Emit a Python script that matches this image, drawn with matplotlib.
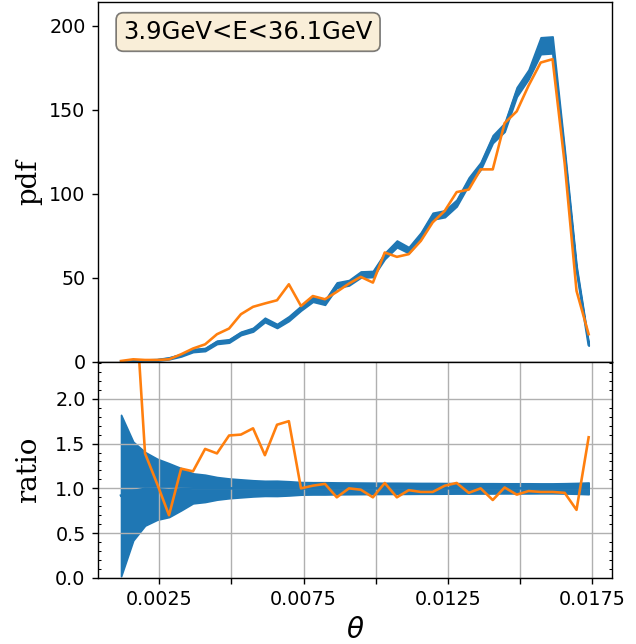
import numpy as np
import matplotlib
matplotlib.use("Agg")
import matplotlib.pyplot as plt
from matplotlib.ticker import MultipleLocator, AutoMinorLocator, FuncFormatter

# bin centres in theta
theta = [0.00118, 0.00160, 0.00201, 0.00243, 0.00284, 0.00326, 0.00367, 0.00409,
         0.00450, 0.00492, 0.00533, 0.00575, 0.00616, 0.00658, 0.00699, 0.00741,
         0.00782, 0.00824, 0.00865, 0.00907, 0.00948, 0.00990, 0.01031, 0.01073,
         0.01114, 0.01156, 0.01197, 0.01239, 0.01280, 0.01322, 0.01363, 0.01405,
         0.01446, 0.01488, 0.01529, 0.01571, 0.01612, 0.01654, 0.01695, 0.01737]

# reference pdf (blue band) and its half width
ref_pdf = [0.3, 0.5, 0.9, 1.15, 2.1, 4.0, 6.8, 7.4, 11.7, 12.5, 17.0, 19.2, 25.0, 21.4,
           25.8, 32.0, 37.3, 35.4, 45.7, 47.1, 52.0, 52.3, 63.0, 70.2, 66.5, 75.0, 86.7,
           88.1, 94.5, 107.5, 116.5, 132.5, 139.5, 160.5, 171.0, 188.0, 188.5, 124.0,
           55.6, 10.5]
ref_err = [0.3, 0.4, 0.4, 0.4, 0.5, 0.7, 0.9, 0.9, 1.0, 1.0, 1.0, 1.1, 1.3, 1.2, 1.4, 1.4,
           1.5, 1.4, 1.6, 1.6, 1.8, 1.8, 1.8, 2.0, 1.8, 2.0, 2.0, 2.0, 2.0, 2.2, 2.2, 2.3,
           2.6, 2.8, 2.8, 5.0, 5.0, 2.4, 1.6, 0.8]

# generated pdf (orange)
gen_pdf = [0.6, 1.6, 1.2, 1.2, 1.6, 4.6, 8.0, 10.5, 16.5, 19.9, 28.4, 32.8, 34.8, 36.7,
           46.2, 33.3, 39.2, 37.3, 41.7, 46.6, 50.6, 47.2, 65.1, 62.5, 64.1, 72.0, 83.0,
           89.9, 101.0, 102.5, 114.5, 114.5, 142.0, 149.0, 164.3, 178.0, 180.0, 118.0,
           42.3, 16.5]

# ratio panel
ratio_mid = [0.92, 0.97, 0.995, 0.99, 0.98, 0.99, 1.0, 1.0, 1.0, 1.0, 1.0, 1.0, 1.0, 1.0,
             1.0, 1.0, 1.0, 1.0, 1.0, 1.0, 1.0, 1.0, 1.0, 1.0, 1.0, 1.0, 1.0, 1.0, 1.0,
             1.0, 1.0, 1.0, 1.0, 1.0, 1.0, 1.0, 1.0, 1.0, 1.0, 1.0]
ratio_err = [0.90, 0.55, 0.41, 0.34, 0.30, 0.235, 0.167, 0.152, 0.126, 0.11, 0.10, 0.09,
             0.084, 0.085, 0.079, 0.07, 0.068, 0.068, 0.066, 0.065, 0.064, 0.063, 0.062,
             0.062, 0.061, 0.06, 0.06, 0.059, 0.058, 0.058, 0.057, 0.057, 0.056, 0.056,
             0.056, 0.055, 0.055, 0.057, 0.060, 0.065]
ratio = [4.0, 3.5, 1.39, 1.05, 0.70, 1.22, 1.19, 1.44, 1.39, 1.59, 1.60, 1.67, 1.37, 1.71,
         1.75, 1.0, 1.03, 1.05, 0.90, 1.0, 0.985, 0.90, 1.06, 0.90, 0.98, 0.96, 0.96, 1.03,
         1.06, 0.95, 1.0, 0.87, 1.01, 0.93, 0.97, 0.96, 0.96, 0.95, 0.76, 1.57]

label = "3.9GeV<E<36.1GeV"

theta = np.array(theta)
ref_pdf = np.array(ref_pdf)
ref_err = np.array(ref_err)
ratio_mid = np.array(ratio_mid)
ratio_err = np.array(ratio_err)

plt.rcParams['font.size'] = 11

fig = plt.figure(figsize=(636 / 125, 644 / 125), dpi=125)
gs = fig.add_gridspec(2, 1, height_ratios=[5, 3], hspace=0)
fig.subplots_adjust(left=0.1536, right=0.9623, top=0.9969, bottom=0.1025)
ax1 = fig.add_subplot(gs[0])
ax2 = fig.add_subplot(gs[1], sharex=ax1)

# top: pdf
ax1.fill_between(theta, ref_pdf - ref_err, ref_pdf + ref_err, color='C0')
ax1.plot(theta, ref_pdf, color='C0')
ax1.plot(theta, gen_pdf, color='C1')
ax1.set_ylim(0, 214)
ax1.yaxis.set_major_locator(MultipleLocator(50))
ax1.set_ylabel('pdf', family='serif', fontsize=16)
ax1.tick_params(axis='x', bottom=False, labelbottom=False)
props = dict(boxstyle='round', facecolor='wheat', alpha=0.5)
ax1.text(0.05, 0.95, label, transform=ax1.transAxes, fontsize=14,
         va='top', bbox=props)

# bottom: ratio
ax2.fill_between(theta, ratio_mid - ratio_err, ratio_mid + ratio_err, color='C0')
ax2.plot(theta, ratio_mid, color='C0')
ax2.plot(theta, ratio, color='C1')
ax2.set_ylim(0, 2.41)
ax2.yaxis.set_major_locator(MultipleLocator(0.5))
ax2.yaxis.set_minor_locator(AutoMinorLocator())
ax2.tick_params(axis='y', which='minor', direction='in', left=True, right=True)
ax2.xaxis.set_major_locator(MultipleLocator(0.0025))


def fmt(v, pos):
    k = int(round(v / 0.0025))
    return '%.4f' % v if k % 2 == 1 else ''


ax2.xaxis.set_major_formatter(FuncFormatter(fmt))
ax2.grid(True)
ax2.set_ylabel('ratio', family='serif', fontsize=16)
ax2.set_xlabel(r'$\theta$', fontsize=16)

fig.align_ylabels([ax1, ax2])
fig.savefig('out.png', dpi=125)
